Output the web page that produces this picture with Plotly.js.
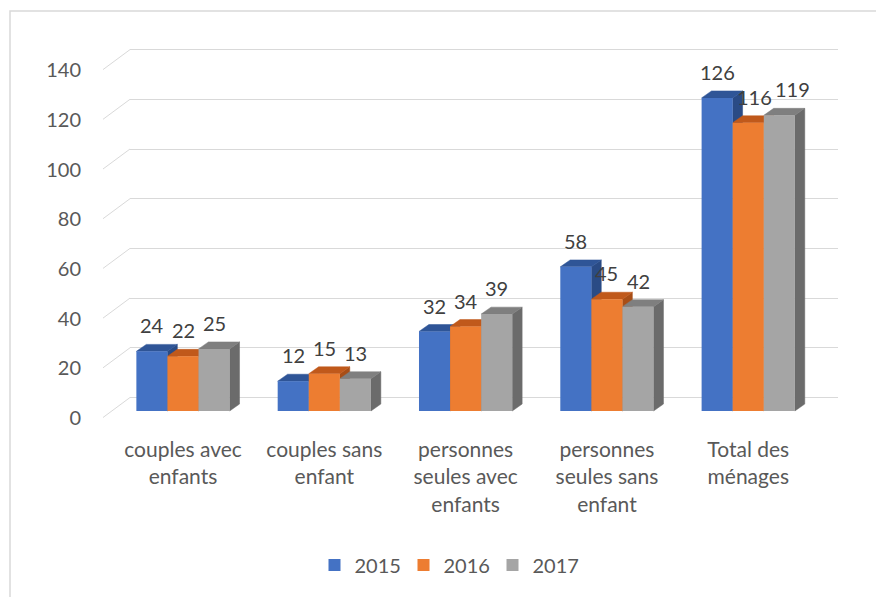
<!DOCTYPE html>
<html>
<head>
<meta charset="utf-8">
<script src="https://cdn.plot.ly/plotly-3.0.1.min.js"></script>
<style>html,body{margin:0;padding:0;background:#fff;}#chart{width:876px;height:597px;}</style>
</head>
<body>
<div id="chart"></div>
<script>
// ---- data ----
const categories = ['couples avec<br>enfants', 'couples sans<br>enfant', 'personnes<br>seules avec<br>enfants', 'personnes<br>seules sans<br>enfant', 'Total des<br>ménages'];
const years = ['2015', '2016', '2017'];
const values2015 = [24, 12, 32, 58, 126];
const values2016 = [22, 15, 34, 45, 116];
const values2017 = [25, 13, 39, 42, 119];
const yTickValues = [0, 20, 40, 60, 80, 100, 120, 140];

// ---- styling / geometry ----
const W = 876, H = 597;
const px = x => x / W;
const py = y => 1 - y / H;
const PLOT_TOP = 30, PLOT_BOT = 430;
const S = 2.485;                 // pixels per unit (y)
const BAR_ZERO = 411, GRID_ZERO = 397.5, LABEL_ZERO = 418;
const yr = zero => [-(PLOT_BOT - zero) / S, (zero - PLOT_TOP) / S];
const ydom = [py(PLOT_BOT), py(PLOT_TOP)];
const XL = 112.35, XR = 818.9;
const SX = (XR - XL) / 5;        // pixels per category
const xdomBars = [px(XL), px(XR)];
const xdomGrid = [px(130), px(838)];
const BAR_W = 0.22, DX = 0.07, DY = 2.8;
const FONT = 'Lato, "Open Sans", sans-serif';
const NUM_SIZE = 20, CAT_SIZE = 21;
const AXIS_COLOR = '#595959', LABEL_COLOR = '#404040', GRID = '#d9d9d9';

const seriesValues = [values2015, values2016, values2017];
const frontColors = ['#4472C4', '#ED7D31', '#A5A5A5'];
const topColors = ['#2F5597', '#C0591B', '#7F7F7F'];
const sideColors = ['#2A4B85', '#A84E17', '#6B6B6B'];
const idx = categories.map((_, i) => i);

const traces = [];
// 3D faces (drawn beneath the front faces)
seriesValues.forEach((vals, k) => {
  const sx = [], sy = [], tx = [], ty = [];
  vals.forEach((v, i) => {
    const x0 = i + (k - 1.5) * BAR_W, x1 = x0 + BAR_W;
    sx.push(x1, x1 + DX, x1 + DX, x1, x1, null);
    sy.push(0, DY, v + DY, v, 0, null);
    tx.push(x0, x0 + DX, x1 + DX, x1, x0, null);
    ty.push(v, v + DY, v + DY, v, v, null);
  });
  traces.push({type: 'scatter', mode: 'lines', x: sx, y: sy, fill: 'toself', fillcolor: sideColors[k],
    line: {width: 0.5, color: sideColors[k]}, xaxis: 'x2', yaxis: 'y2', hoverinfo: 'skip', showlegend: false});
  traces.push({type: 'scatter', mode: 'lines', x: tx, y: ty, fill: 'toself', fillcolor: topColors[k],
    line: {width: 0.5, color: topColors[k]}, xaxis: 'x2', yaxis: 'y2', hoverinfo: 'skip', showlegend: false});
});
// front faces
seriesValues.forEach((vals, k) => {
  traces.push({type: 'bar', name: years[k], x: idx, y: vals, offset: (k - 1.5) * BAR_W, width: BAR_W,
    marker: {color: frontColors[k], line: {width: 0}}, xaxis: 'x3', yaxis: 'y3'});
});
// invisible helper so the value-label axis is drawn
traces.push({type: 'scatter', mode: 'markers', x: [0.5], y: [yTickValues[0]], marker: {opacity: 0},
  xaxis: 'x4', yaxis: 'y4', hoverinfo: 'skip', showlegend: false});

// data labels, nudged sideways only when neighbouring labels would collide
const annotations = [];
const digitW = 0.58 * NUM_SIZE;
idx.forEach(i => {
  let prevRight = -Infinity;
  seriesValues.forEach((vals, k) => {
    const v = vals[i];
    const txt = String(v);
    const w = txt.length * digitW;
    const cx = (i + (k - 1) * BAR_W) * SX;
    let left = cx - w / 2;
    let shift = 0;
    if (left < prevRight + 3) shift = prevRight + 3 - left;
    prevRight = left + shift + w;
    annotations.push({xref: 'x3', yref: 'y3', x: i + (k - 1) * BAR_W, y: v + DY, text: txt,
      showarrow: false, yanchor: 'bottom', yshift: 5, xshift: shift,
      font: {family: FONT, size: NUM_SIZE, color: LABEL_COLOR}});
  });
});

const shapes = [
  {type: 'rect', xref: 'paper', yref: 'paper', x0: px(10), x1: 1.2, y0: -0.2, y1: py(11),
   line: {color: GRID, width: 1.5}, fillcolor: 'rgba(0,0,0,0)', layer: 'below'}
];
yTickValues.forEach(t => {
  shapes.push({type: 'line', xref: 'paper', yref: 'y', x0: px(103), x1: px(130), y0: t - 20 / S, y1: t,
    line: {color: GRID, width: 1}, layer: 'below'});
});

const numFont = {family: FONT, size: NUM_SIZE, color: AXIS_COLOR};
const catFont = {family: FONT, size: CAT_SIZE, color: AXIS_COLOR};
const layout = {
  width: W, height: H, autosize: false,
  margin: {l: 0, r: 0, t: 0, b: 0},
  paper_bgcolor: '#fff', plot_bgcolor: 'rgba(0,0,0,0)',
  font: {family: FONT, color: AXIS_COLOR},
  barmode: 'overlay',
  showlegend: true,
  legend: {orientation: 'h', x: px(448), xanchor: 'center', y: py(565), yanchor: 'middle',
    entrywidth: 44, entrywidthmode: 'pixels',
    font: numFont, bgcolor: 'rgba(0,0,0,0)'},
  xaxis: {domain: xdomGrid, range: [0, 1], anchor: 'y', showgrid: false, zeroline: false, showline: false,
    showticklabels: false, ticks: '', automargin: false},
  yaxis: {domain: ydom, range: yr(GRID_ZERO), anchor: 'x', tickvals: yTickValues, showticklabels: false,
    showgrid: true, gridcolor: GRID, gridwidth: 1, zeroline: false, showline: false, ticks: '', automargin: false},
  xaxis2: {domain: xdomBars, range: [-0.5, 4.5], anchor: 'y2', tickvals: idx, ticktext: categories,
    showgrid: false, zeroline: false, showline: false, ticks: '', tickfont: catFont, automargin: false,
    ticklabelstandoff: 5},
  yaxis2: {domain: ydom, range: yr(BAR_ZERO), anchor: 'x2', visible: false},
  xaxis3: {domain: xdomBars, range: [-0.5, 4.5], anchor: 'y3', visible: false},
  yaxis3: {domain: ydom, range: yr(BAR_ZERO), anchor: 'x3', visible: false},
  xaxis4: {domain: [px(82), px(83)], range: [0, 1], anchor: 'y4', visible: false},
  yaxis4: {domain: ydom, range: yr(LABEL_ZERO), anchor: 'x4', tickvals: yTickValues, showgrid: false,
    zeroline: false, showline: false, ticks: '', tickfont: numFont, automargin: false},
  annotations: annotations,
  shapes: shapes
};

Plotly.newPlot('chart', traces, layout, {staticPlot: true, displayModeBar: false});
</script>
</body>
</html>
